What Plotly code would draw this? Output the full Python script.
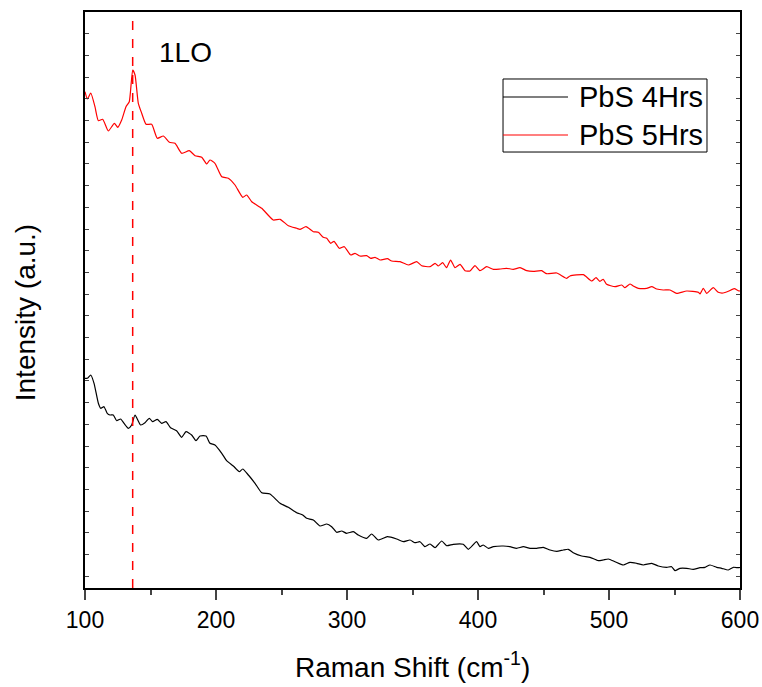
import plotly.graph_objects as go

# Raman shift (cm^-1) and intensity (a.u.)
x_4h = [100.0, 101.8, 104.4, 106.9, 110.2, 112.0, 114.5, 117.0, 119.1, 121.6, 124.2, 127.2, 129.8, 133.1,
        135.6, 138.2, 142.5, 145.8, 149.1, 151.6, 155.2, 158.5, 161.8, 165.3, 169.9, 173.8, 177.1, 181.4,
        184.7, 187.8, 192.4, 195.4, 199.2, 204.4, 208.1, 213.2, 217.8, 220.4, 224.7, 229.8, 234.9, 241.2,
        248.9, 255.2, 261.6, 266.2, 269.2, 274.3, 279.4, 284.5, 288.3, 292.1, 295.9, 299.7, 304.8, 308.6,
        315.0, 318.8, 323.9, 330.8, 337.9, 343.0, 348.1, 351.9, 355.7, 359.5, 363.4, 367.2, 372.3, 376.0,
        381.1, 388.7, 392.6, 398.9, 401.5, 404.0, 407.9, 411.7, 419.3, 424.4, 429.5, 434.6, 439.7, 444.8,
        449.8, 455.0, 460.1, 465.1, 468.9, 472.7, 479.1, 485.5, 491.8, 495.6, 499.5, 504.6, 510.9, 516.0,
        521.1, 526.2, 532.6, 537.6, 544.0, 547.8, 550.4, 554.2, 559.3, 564.3, 569.5, 573.3, 577.1, 582.2,
        586.0, 591.1, 594.9, 598.7, 600.0]
y_4h = [209.7, 209.7, 213.0, 204.7, 184.7, 179.7, 181.3, 174.7, 173.0, 173.0, 167.3, 169.0, 164.7, 159.7,
        163.0, 173.0, 163.0, 165.3, 169.7, 166.3, 168.7, 164.7, 166.3, 160.3, 157.3, 150.7, 156.3, 153.0,
        147.3, 152.0, 152.0, 144.7, 143.0, 134.7, 127.3, 122.0, 116.3, 119.0, 113.0, 104.7, 95.3, 94.0,
        84.7, 80.7, 75.3, 73.0, 69.7, 68.0, 62.0, 64.0, 61.3, 55.7, 57.0, 54.7, 56.3, 53.0,
        49.7, 54.0, 48.0, 51.3, 49.0, 46.3, 48.0, 45.3, 46.3, 41.3, 44.0, 40.3, 47.0, 42.3,
        43.7, 43.7, 38.7, 46.3, 41.3, 43.0, 39.7, 41.3, 42.0, 41.3, 39.7, 41.3, 39.7, 39.7,
        40.7, 38.0, 36.7, 38.0, 38.7, 35.3, 32.0, 30.7, 27.3, 28.0, 29.0, 26.3, 23.0, 25.7,
        24.7, 23.0, 24.7, 22.0, 20.7, 21.3, 17.3, 19.7, 19.7, 18.7, 20.3, 20.7, 23.0, 20.7,
        19.7, 18.0, 20.7, 20.3, 20.5]

x_5h = [100.0, 101.8, 104.4, 107.6, 110.2, 113.5, 117.8, 122.4, 125.0, 128.0, 131.3, 133.8, 136.4, 138.2,
        140.7, 143.3, 146.6, 150.9, 155.2, 159.8, 164.4, 168.7, 173.8, 179.6, 184.0, 189.1, 192.9, 195.4,
        199.2, 204.4, 209.4, 214.5, 220.4, 223.4, 227.3, 234.9, 243.7, 248.9, 255.2, 261.6, 264.1, 268.7,
        274.3, 278.1, 281.9, 284.5, 287.6, 290.1, 294.1, 297.9, 302.8, 306.1, 309.9, 315.0, 318.1, 321.4,
        325.2, 330.8, 334.1, 340.5, 346.8, 353.2, 357.0, 363.4, 367.2, 369.7, 373.0, 376.0, 379.1, 382.4,
        386.3, 390.1, 393.9, 397.7, 401.5, 406.6, 411.7, 416.8, 421.9, 426.9, 432.1, 437.2, 442.2, 448.6,
        452.4, 460.1, 467.7, 470.2, 480.4, 486.8, 490.1, 493.1, 495.6, 498.2, 504.6, 509.7, 512.2, 516.0,
        518.5, 522.4, 528.8, 532.6, 536.4, 541.4, 546.6, 551.6, 559.3, 568.2, 569.5, 572.0, 574.5, 579.6,
        583.4, 587.2, 591.1, 595.6, 598.7, 600.0]
y_5h = [496.3, 489.0, 495.0, 481.3, 467.3, 468.7, 457.0, 464.7, 460.7, 468.0, 481.3, 486.3, 518.0, 513.0,
        484.7, 474.7, 463.7, 463.7, 449.7, 452.0, 445.7, 444.7, 434.7, 437.3, 432.3, 430.7, 424.0, 428.0,
        424.7, 411.3, 409.7, 403.0, 390.7, 393.0, 386.3, 379.7, 368.0, 368.7, 362.3, 359.7, 358.7, 361.3,
        356.3, 355.7, 350.7, 349.7, 344.7, 346.7, 339.7, 341.3, 333.0, 334.7, 332.0, 332.3, 329.7, 330.7,
        328.0, 329.3, 327.0, 326.3, 323.0, 326.3, 322.3, 321.3, 324.7, 322.0, 325.3, 320.3, 328.0, 320.3,
        323.7, 317.3, 317.0, 322.3, 317.3, 321.3, 318.7, 319.0, 319.7, 318.7, 320.3, 317.3, 316.7, 317.3,
        314.3, 315.0, 309.7, 312.0, 313.3, 307.0, 310.3, 306.7, 308.7, 303.7, 301.3, 303.0, 300.3, 304.0,
        302.0, 299.7, 299.7, 301.3, 299.0, 298.0, 298.0, 294.7, 297.0, 295.7, 294.0, 299.7, 294.7, 300.3,
        295.7, 295.0, 296.7, 299.3, 297.3, 297.0]

series_names = ["PbS 4Hrs", "PbS 5Hrs"]
series_colors = ["black", "#ff0000"]
peak_1lo = 136.4
x_ticks = [100, 200, 300, 400, 500, 600]

font = "Liberation Sans, Arial, sans-serif"

fig = go.Figure()
for xs, ys, nm, col in [(x_4h, y_4h, series_names[0], series_colors[0]),
                        (x_5h, y_5h, series_names[1], series_colors[1])]:
    fig.add_trace(go.Scatter(x=xs, y=ys, mode="lines", name=nm, showlegend=False,
                             line=dict(color=col, width=1.2, shape="spline", smoothing=0.5)))

fig.add_shape(type="line", xref="x", yref="paper", x0=peak_1lo, x1=peak_1lo, y0=0, y1=1,
              line=dict(color="#ff0000", width=1.5, dash="dash"))

# legend box (drawn in paper coordinates)
lg_x0, lg_x1, lg_y0, lg_y1 = 0.6382, 0.9496, 0.7569, 0.8837
fig.add_shape(type="rect", xref="paper", yref="paper", x0=lg_x0, x1=lg_x1, y0=lg_y0, y1=lg_y1,
              line=dict(color="black", width=1), fillcolor="white", layer="above")
for row_y, nm, col in [(0.8524, series_names[0], series_colors[0]),
                       (0.7865, series_names[1], series_colors[1])]:
    fig.add_shape(type="line", xref="paper", yref="paper", x0=lg_x0, x1=0.7374, y0=row_y, y1=row_y,
                  line=dict(color=col, width=1.2), layer="above")
    fig.add_annotation(text=nm, x=0.7511, y=row_y, xref="paper", yref="paper", showarrow=False,
                       xanchor="left", yanchor="middle",
                       font=dict(family=font, size=29, color="black"))

fig.add_annotation(text="1LO", x=177, y=0.93, xref="x", yref="paper", showarrow=False,
                   font=dict(family=font, size=28, color="black"), xanchor="center", yanchor="middle")
fig.add_annotation(text="Raman Shift (cm<sup>-1</sup>)", x=0.5, y=-0.134, xref="paper", yref="paper",
                   showarrow=False, font=dict(family=font, size=28, color="black"),
                   xanchor="center", yanchor="middle")
fig.add_annotation(text="Intensity (a.u.)", x=-0.0916, y=0.477, xref="paper", yref="paper",
                   showarrow=False, textangle=-90, font=dict(family=font, size=28, color="black"),
                   xanchor="center", yanchor="middle")

fig.update_layout(
    width=762, height=687,
    margin=dict(l=85, r=22, t=12, b=99),
    paper_bgcolor="white", plot_bgcolor="white",
    font=dict(family=font, color="black"),
    showlegend=False,
)
fig.update_xaxes(range=[100, 600], tickvals=x_ticks, ticks="outside", ticklen=10, tickwidth=2,
                 minor=dict(ticks="outside", ticklen=5, tickwidth=1.5, dtick=50, tick0=100),
                 showline=True, linecolor="black", linewidth=2, mirror=True,
                 showgrid=False, zeroline=False, automargin=False,
                 tickfont=dict(family=font, size=23, color="black"))
fig.update_yaxes(range=[0, 576], tick0=576 - 26 * 21.7, dtick=21.7, ticks="inside", ticklen=4, tickwidth=1,
                 showticklabels=False, showline=True, linecolor="black", linewidth=2, mirror="ticks",
                 showgrid=False, zeroline=False, automargin=False)

fig.write_html("out.html")
